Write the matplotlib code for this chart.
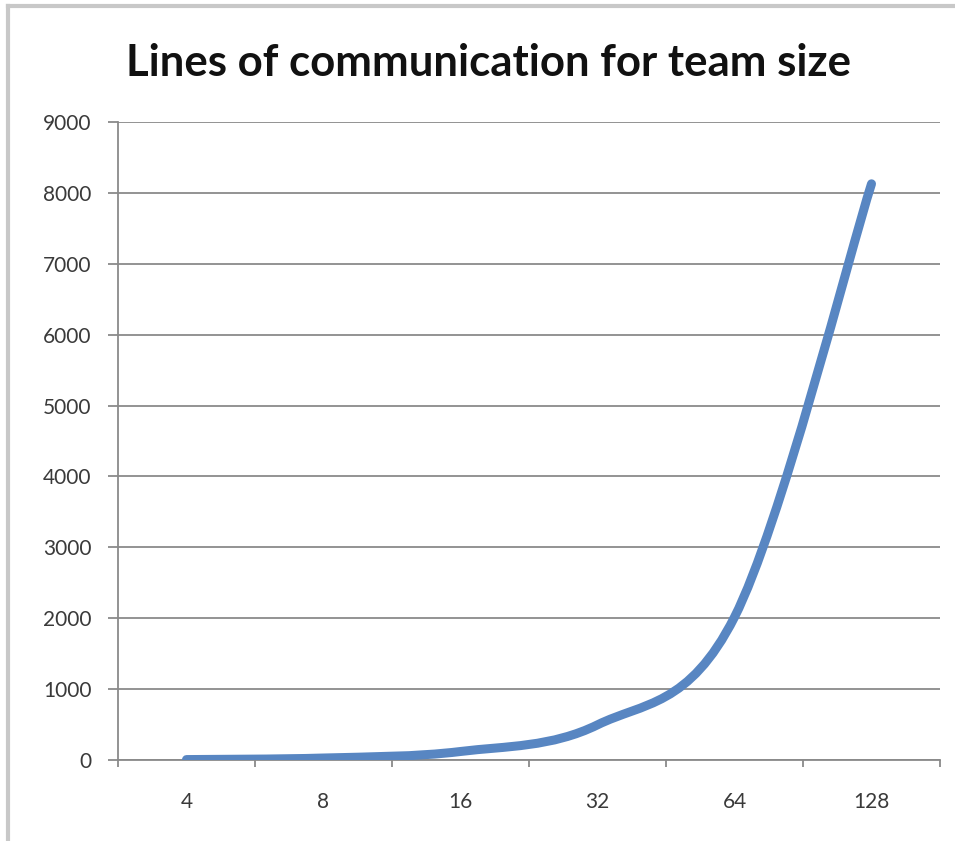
import matplotlib.pyplot as plt
import numpy as np
from matplotlib.path import Path
import matplotlib.patches as mpatches
from matplotlib.lines import Line2D

team_sizes = ["4", "8", "16", "32", "64", "128"]
lines_of_comm = [6, 28, 120, 496, 2016, 8128]
y_ticks = list(range(0, 9001, 1000))

plt.rcParams['font.family'] = ['Lato', 'DejaVu Sans']

fig = plt.figure(figsize=(9.55, 8.41), dpi=100)
ax = fig.add_axes([118 / 955, 1 - 760 / 841, 822 / 955, 638 / 841])

# smoothed line the way the spreadsheet draws it (cubic bezier between points)
x = np.arange(len(lines_of_comm), dtype=float)
y = np.array(lines_of_comm, dtype=float)
verts = [(x[0], y[0])]
codes = [Path.MOVETO]
for i in range(len(x) - 1):
    x0, y0 = (x[i - 1], y[i - 1]) if i > 0 else (x[i], y[i])
    x3, y3 = (x[i + 2], y[i + 2]) if i + 2 < len(x) else (x[i + 1], y[i + 1])
    c1 = (x[i] + (x[i + 1] - x0) / 6, y[i] + (y[i + 1] - y0) / 6)
    c2 = (x[i + 1] - (x3 - x[i]) / 6, y[i + 1] - (y3 - y[i]) / 6)
    verts += [c1, c2, (x[i + 1], y[i + 1])]
    codes += [Path.CURVE4] * 3
curve = mpatches.PathPatch(Path(verts, codes), facecolor='none', edgecolor='#5886c2',
                           linewidth=6.5, capstyle='round', joinstyle='round', zorder=3)
ax.add_patch(curve)

ax.set_xlim(-0.5, len(team_sizes) - 0.5)
ax.set_ylim(0, 9000)

ax.set_yticks(y_ticks)
ax.set_yticklabels([str(v) for v in y_ticks])
ax.set_xticks(x)
ax.set_xticklabels(team_sizes)
ax.set_xticks(np.arange(-0.5, len(team_sizes)), minor=True)

ax.grid(axis='y', color='#8a8a8a', linewidth=1.3)
ax.set_axisbelow(True)
for side in ['top', 'right']:
    ax.spines[side].set_visible(False)
for side in ['left', 'bottom']:
    ax.spines[side].set_color('#8a8a8a')
    ax.spines[side].set_linewidth(1.3)

ax.tick_params(axis='y', length=7, width=1.3, color='#8a8a8a', labelsize=15,
               labelcolor='#3a3a3a', pad=12)
ax.tick_params(axis='x', which='major', length=0, labelsize=15, labelcolor='#3a3a3a', pad=23)
ax.tick_params(axis='x', which='minor', length=5, width=1.3, color='#8a8a8a')

fig.text(488 / 955, 1 - 63 / 841, "Lines of communication for team size",
         ha='center', va='center', fontsize=31.5, fontweight='bold', color='#111111')

# light border on top and left edges
fig.add_artist(Line2D([8 / 955, 1], [1 - 6 / 841, 1 - 6 / 841], transform=fig.transFigure,
                      color='#c8c8c8', linewidth=3))
fig.add_artist(Line2D([8 / 955, 8 / 955], [0, 1 - 6 / 841], transform=fig.transFigure,
                      color='#c8c8c8', linewidth=3))

fig.savefig('out.png', dpi=100)
